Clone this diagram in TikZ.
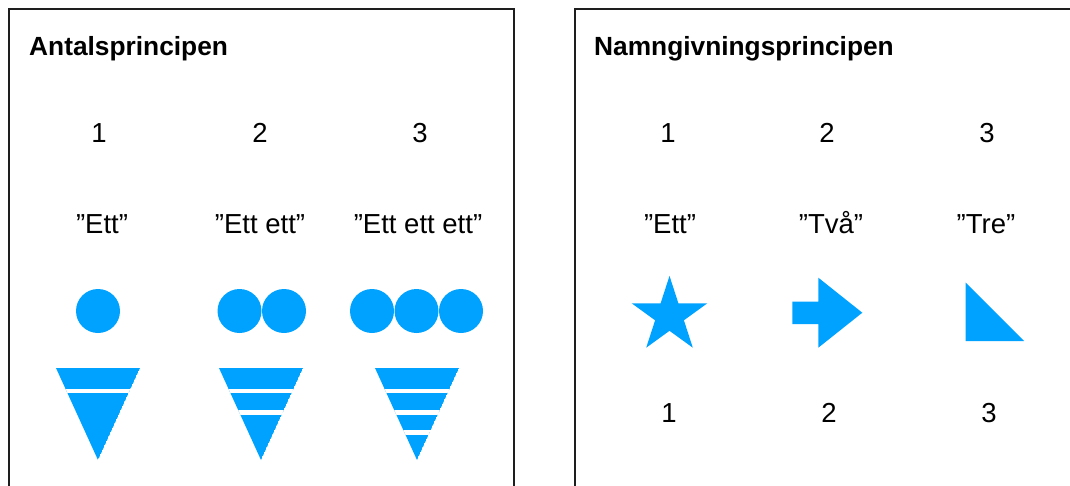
\documentclass[tikz,border=0pt]{standalone}
\usepackage{fontspec}
\setmainfont{Liberation Sans}
\definecolor{cblue}{RGB}{0,162,255}
\definecolor{frame}{RGB}{30,30,30}
\begin{document}
\begin{tikzpicture}[x=1pt,y=-1pt,
  lbl/.style={anchor=base,inner sep=0pt,font=\fontsize{27.5}{30}\selectfont},
  ttl/.style={anchor=base west,inner sep=0pt,font=\fontsize{26.3}{30}\selectfont\bfseries},
  panel/.style={draw=frame,line width=2pt},
  shp/.style={fill=cblue},
  gap/.style={white,line width=4.6pt}]
\useasboundingbox (0,0) rectangle (1070,485);
% frames
\draw[panel] (9,490) -- (9,9) -- (514,9) -- (514,490);
\draw[panel] (575,490) -- (575,9) -- (1075,9);
% titles
\node[ttl] (t1) at (29,55) {Antalsprincipen};
\node[ttl] (t2) at (594,55) {Namngivningsprincipen};
% left panel texts
\node[lbl] (a1) at (99,142) {1};
\node[lbl] (a2) at (260,142) {2};
\node[lbl] (a3) at (420,142) {3};
\node[lbl] (q1) at (102,233) {”Ett”};
\node[lbl] (q2) at (260,233) {”Ett ett”};
\node[lbl] (q3) at (418,233) {”Ett ett ett”};
% circles
\fill[shp] (98,311) circle[radius=22pt];
\fill[shp] (239.5,311) circle[radius=22pt];
\fill[shp] (284,311) circle[radius=22pt];
\fill[shp] (372,311) circle[radius=22pt];
\fill[shp] (416.5,311) circle[radius=22pt];
\fill[shp] (461,311) circle[radius=22pt];
% cones
\begin{scope}
\clip (56,368) -- (140,368) -- (98,460) -- cycle;
\fill[shp] (56,368) -- (140,368) -- (98,460) -- cycle;
\draw[gap] (40,390.8) -- (160,390.8);
\end{scope}
\begin{scope}
\clip (219,368) -- (303,368) -- (261,460) -- cycle;
\fill[shp] (219,368) -- (303,368) -- (261,460) -- cycle;
\draw[gap] (200,390.8) -- (320,390.8);
\draw[gap] (200,412.2) -- (320,412.2);
\end{scope}
\begin{scope}
\clip (375,368) -- (459,368) -- (417,460) -- cycle;
\fill[shp] (375,368) -- (459,368) -- (417,460) -- cycle;
\draw[gap] (360,390.8) -- (480,390.8);
\draw[gap] (360,412.2) -- (480,412.2);
\draw[gap] (360,432.6) -- (480,432.6);
\end{scope}
% right panel texts
\node[lbl] (b1) at (668,142) {1};
\node[lbl] (b2) at (827,142) {2};
\node[lbl] (b3) at (987,142) {3};
\node[lbl] (r1) at (670,233) {”Ett”};
\node[lbl] (r2) at (831,233) {”Två”};
\node[lbl] (r3) at (986,233) {”Tre”};
\node[lbl] (c1) at (669,422) {1};
\node[lbl] (c2) at (829,422) {2};
\node[lbl] (c3) at (989,422) {3};
% star
\fill[shp] (669.5,275.9) -- (678.4,303.3) -- (707.3,303.3) -- (683.9,320.3)
  -- (692.8,347.7) -- (669.5,330.8) -- (646.2,347.7) -- (655.1,320.3)
  -- (631.7,303.3) -- (660.6,303.3) -- cycle;
% arrow
\fill[shp] (792.3,301.7) -- (818.3,301.7) -- (818.3,277.7) -- (862.3,312.7)
  -- (818.3,347.7) -- (818.3,324) -- (792.3,324) -- cycle;
% right triangle
\fill[shp] (965.7,282.7) -- (965.7,341) -- (1024,341) -- cycle;
\end{tikzpicture}
\end{document}
